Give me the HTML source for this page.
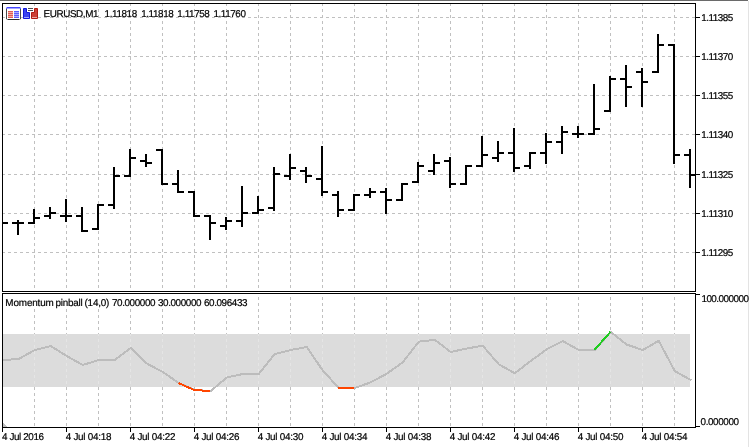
<!DOCTYPE html>
<html><head><meta charset="utf-8"><title>EURUSD,M1</title>
<style>
html,body{margin:0;padding:0;background:#fff;}
body{width:749px;height:447px;overflow:hidden;position:relative;font-family:"Liberation Sans",sans-serif;}
#c{position:absolute;left:0;top:0;width:749px;height:447px;}
.t{position:absolute;white-space:pre;color:#000;font-size:9.9px;line-height:12px;height:12px;letter-spacing:-0.4px;text-rendering:geometricPrecision;-webkit-text-stroke:0.2px #000;}
#tx{position:absolute;left:0;top:0;width:749px;height:447px;transform:translateZ(0);will-change:transform;}
</style></head><body>
<svg id="c" width="749" height="447" viewBox="0 0 749 447" shape-rendering="crispEdges">
<defs><clipPath id="band"><rect x="3" y="334" width="687" height="53"/></clipPath><clipPath id="main"><rect x="3" y="4" width="692" height="287"/></clipPath></defs>
<rect x="0" y="0" width="749" height="447" fill="#fff"/>
<rect x="0" y="0" width="748" height="1" fill="#6a6a6a"/>
<rect x="748" y="1" width="1" height="446" fill="#e3e3e3"/>
<g stroke="#c0c0c0" stroke-width="1" stroke-dasharray="3 3" fill="none">
<line x1="34.5" y1="3" x2="34.5" y2="427"/>
<line x1="66.5" y1="3" x2="66.5" y2="427"/>
<line x1="98.5" y1="3" x2="98.5" y2="427"/>
<line x1="130.5" y1="3" x2="130.5" y2="427"/>
<line x1="162.5" y1="3" x2="162.5" y2="427"/>
<line x1="194.5" y1="3" x2="194.5" y2="427"/>
<line x1="226.5" y1="3" x2="226.5" y2="427"/>
<line x1="258.5" y1="3" x2="258.5" y2="427"/>
<line x1="290.5" y1="3" x2="290.5" y2="427"/>
<line x1="322.5" y1="3" x2="322.5" y2="427"/>
<line x1="354.5" y1="3" x2="354.5" y2="427"/>
<line x1="386.5" y1="3" x2="386.5" y2="427"/>
<line x1="418.5" y1="3" x2="418.5" y2="427"/>
<line x1="450.5" y1="3" x2="450.5" y2="427"/>
<line x1="482.5" y1="3" x2="482.5" y2="427"/>
<line x1="514.5" y1="3" x2="514.5" y2="427"/>
<line x1="546.5" y1="3" x2="546.5" y2="427"/>
<line x1="578.5" y1="3" x2="578.5" y2="427"/>
<line x1="610.5" y1="3" x2="610.5" y2="427"/>
<line x1="642.5" y1="3" x2="642.5" y2="427"/>
<line x1="674.5" y1="3" x2="674.5" y2="427"/>
<line x1="2" y1="17.5" x2="695" y2="17.5"/>
<line x1="2" y1="56.5" x2="695" y2="56.5"/>
<line x1="2" y1="95.5" x2="695" y2="95.5"/>
<line x1="2" y1="134.5" x2="695" y2="134.5"/>
<line x1="2" y1="174.5" x2="695" y2="174.5"/>
<line x1="2" y1="213.5" x2="695" y2="213.5"/>
<line x1="2" y1="252.5" x2="695" y2="252.5"/>
</g>
<rect x="0" y="292" width="748" height="1" fill="#fff"/>
<rect x="3" y="294" width="247" height="15" fill="#fff"/>
<rect x="3" y="334" width="687" height="53" fill="#dcdcdc"/>
<g stroke="#e5e5e5" stroke-width="1" stroke-dasharray="3 3" fill="none" clip-path="url(#band)">
<line x1="34.5" y1="333" x2="34.5" y2="393"/>
<line x1="66.5" y1="333" x2="66.5" y2="393"/>
<line x1="98.5" y1="333" x2="98.5" y2="393"/>
<line x1="130.5" y1="333" x2="130.5" y2="393"/>
<line x1="162.5" y1="333" x2="162.5" y2="393"/>
<line x1="194.5" y1="333" x2="194.5" y2="393"/>
<line x1="226.5" y1="333" x2="226.5" y2="393"/>
<line x1="258.5" y1="333" x2="258.5" y2="393"/>
<line x1="290.5" y1="333" x2="290.5" y2="393"/>
<line x1="322.5" y1="333" x2="322.5" y2="393"/>
<line x1="354.5" y1="333" x2="354.5" y2="393"/>
<line x1="386.5" y1="333" x2="386.5" y2="393"/>
<line x1="418.5" y1="333" x2="418.5" y2="393"/>
<line x1="450.5" y1="333" x2="450.5" y2="393"/>
<line x1="482.5" y1="333" x2="482.5" y2="393"/>
<line x1="514.5" y1="333" x2="514.5" y2="393"/>
<line x1="546.5" y1="333" x2="546.5" y2="393"/>
<line x1="578.5" y1="333" x2="578.5" y2="393"/>
<line x1="610.5" y1="333" x2="610.5" y2="393"/>
<line x1="642.5" y1="333" x2="642.5" y2="393"/>
<line x1="674.5" y1="333" x2="674.5" y2="393"/>
</g>
<g fill="none" stroke-width="2" stroke-linecap="butt" stroke-linejoin="round" shape-rendering="crispEdges">
<polyline points="2.75,360 18.75,359 34.75,350 50.75,346 66.75,356 82.75,365 98.75,360 114.75,360 130.75,348 146.75,363.5 162.75,372 178.75,383 194.75,390 210.75,391 226.75,377.5 242.75,374 258.75,374 274.75,354 290.75,350 306.75,347 322.75,370.5 338.75,388 354.75,388 370.75,382.3 386.75,373.7 402.75,362.3 418.75,341.7 434.75,339.8 450.75,352 466.75,348.5 482.75,345.7 498.75,364.3 514.75,373.2 530.75,361 546.75,349.2 562.75,341 578.75,350 594.75,350 610.75,332 626.75,344.6 642.75,350 658.75,340.8 674.75,371 690.75,380 691.35,380.4" stroke="#bcbcbc"/>
<line x1="178.3" y1="383" x2="194.3" y2="390" stroke="#ff4500"/>
<line x1="194.3" y1="390" x2="210.3" y2="391" stroke="#ff4500"/>
<line x1="338.3" y1="388" x2="354.3" y2="388" stroke="#ff4500"/>
<line x1="594.3" y1="350" x2="610.3" y2="332" stroke="#20cc20"/>
</g>
<path d="M3 423 L3 427 L7 427 Z" fill="#c0c0c0"/>
<g fill="#000" clip-path="url(#main)">
<rect x="1" y="222" width="2" height="2"/><rect x="-4" y="222" width="5" height="2"/><rect x="3" y="222" width="5" height="2"/>
<rect x="17" y="220" width="2" height="15"/><rect x="12" y="222" width="5" height="2"/><rect x="19" y="222" width="5" height="2"/>
<rect x="33" y="209" width="2" height="15"/><rect x="28" y="222" width="5" height="2"/><rect x="35" y="217" width="5" height="2"/>
<rect x="49" y="207" width="2" height="12"/><rect x="44" y="215" width="5" height="2"/><rect x="51" y="212" width="5" height="2"/>
<rect x="65" y="199" width="2" height="23"/><rect x="60" y="215" width="5" height="2"/><rect x="67" y="215" width="5" height="2"/>
<rect x="81" y="207" width="2" height="25"/><rect x="76" y="215" width="5" height="2"/><rect x="83" y="230" width="5" height="2"/>
<rect x="97" y="204" width="2" height="26"/><rect x="92" y="228" width="5" height="2"/><rect x="99" y="204" width="5" height="2"/>
<rect x="113" y="167" width="2" height="42"/><rect x="108" y="204" width="5" height="2"/><rect x="115" y="175" width="5" height="2"/>
<rect x="129" y="149" width="2" height="28"/><rect x="124" y="175" width="5" height="2"/><rect x="131" y="157" width="5" height="2"/>
<rect x="145" y="154" width="2" height="13"/><rect x="140" y="160" width="5" height="2"/><rect x="147" y="162" width="5" height="2"/>
<rect x="161" y="149" width="2" height="36"/><rect x="156" y="149" width="5" height="2"/><rect x="163" y="183" width="5" height="2"/>
<rect x="177" y="170" width="2" height="23"/><rect x="172" y="183" width="5" height="2"/><rect x="179" y="191" width="5" height="2"/>
<rect x="193" y="191" width="2" height="26"/><rect x="188" y="191" width="5" height="2"/><rect x="195" y="215" width="5" height="2"/>
<rect x="209" y="215" width="2" height="25"/><rect x="204" y="215" width="5" height="2"/><rect x="211" y="222" width="5" height="2"/>
<rect x="225" y="217" width="2" height="13"/><rect x="220" y="225" width="5" height="2"/><rect x="227" y="220" width="5" height="2"/>
<rect x="241" y="186" width="2" height="41"/><rect x="236" y="220" width="5" height="2"/><rect x="243" y="212" width="5" height="2"/>
<rect x="257" y="196" width="2" height="18"/><rect x="252" y="212" width="5" height="2"/><rect x="259" y="209" width="5" height="2"/>
<rect x="273" y="167" width="2" height="44"/><rect x="268" y="207" width="5" height="2"/><rect x="275" y="173" width="5" height="2"/>
<rect x="289" y="154" width="2" height="26"/><rect x="284" y="175" width="5" height="2"/><rect x="291" y="167" width="5" height="2"/>
<rect x="305" y="167" width="2" height="16"/><rect x="300" y="170" width="5" height="2"/><rect x="307" y="175" width="5" height="2"/>
<rect x="321" y="146" width="2" height="50"/><rect x="316" y="178" width="5" height="2"/><rect x="323" y="191" width="5" height="2"/>
<rect x="337" y="191" width="2" height="26"/><rect x="332" y="194" width="5" height="2"/><rect x="339" y="209" width="5" height="2"/>
<rect x="353" y="194" width="2" height="17"/><rect x="348" y="209" width="5" height="2"/><rect x="355" y="194" width="5" height="2"/>
<rect x="369" y="188" width="2" height="10"/><rect x="364" y="194" width="5" height="2"/><rect x="371" y="191" width="5" height="2"/>
<rect x="385" y="188" width="2" height="26"/><rect x="380" y="191" width="5" height="2"/><rect x="387" y="199" width="5" height="2"/>
<rect x="401" y="183" width="2" height="18"/><rect x="396" y="199" width="5" height="2"/><rect x="403" y="183" width="5" height="2"/>
<rect x="417" y="162" width="2" height="21"/><rect x="412" y="181" width="5" height="2"/><rect x="419" y="165" width="5" height="2"/>
<rect x="433" y="154" width="2" height="21"/><rect x="428" y="170" width="5" height="2"/><rect x="435" y="162" width="5" height="2"/>
<rect x="449" y="157" width="2" height="31"/><rect x="444" y="160" width="5" height="2"/><rect x="451" y="183" width="5" height="2"/>
<rect x="465" y="165" width="2" height="20"/><rect x="460" y="183" width="5" height="2"/><rect x="467" y="165" width="5" height="2"/>
<rect x="481" y="136" width="2" height="31"/><rect x="476" y="165" width="5" height="2"/><rect x="483" y="154" width="5" height="2"/>
<rect x="497" y="141" width="2" height="21"/><rect x="492" y="157" width="5" height="2"/><rect x="499" y="152" width="5" height="2"/>
<rect x="513" y="128" width="2" height="44"/><rect x="508" y="152" width="5" height="2"/><rect x="515" y="167" width="5" height="2"/>
<rect x="529" y="152" width="2" height="17"/><rect x="524" y="165" width="5" height="2"/><rect x="531" y="152" width="5" height="2"/>
<rect x="545" y="133" width="2" height="31"/><rect x="540" y="152" width="5" height="2"/><rect x="547" y="141" width="5" height="2"/>
<rect x="561" y="126" width="2" height="28"/><rect x="556" y="141" width="5" height="2"/><rect x="563" y="131" width="5" height="2"/>
<rect x="577" y="126" width="2" height="12"/><rect x="572" y="133" width="5" height="2"/><rect x="579" y="133" width="5" height="2"/>
<rect x="593" y="84" width="2" height="51"/><rect x="588" y="133" width="5" height="2"/><rect x="595" y="128" width="5" height="2"/>
<rect x="609" y="76" width="2" height="36"/><rect x="604" y="110" width="5" height="2"/><rect x="611" y="78" width="5" height="2"/>
<rect x="625" y="65" width="2" height="42"/><rect x="620" y="78" width="5" height="2"/><rect x="627" y="86" width="5" height="2"/>
<rect x="641" y="68" width="2" height="39"/><rect x="636" y="71" width="5" height="2"/><rect x="643" y="81" width="5" height="2"/>
<rect x="657" y="34" width="2" height="39"/><rect x="652" y="71" width="5" height="2"/><rect x="659" y="44" width="5" height="2"/>
<rect x="673" y="44" width="2" height="120"/><rect x="668" y="44" width="5" height="2"/><rect x="675" y="154" width="5" height="2"/>
<rect x="689" y="149" width="2" height="39"/><rect x="684" y="154" width="5" height="2"/><rect x="691" y="174" width="5" height="2"/>
</g>
<g fill="#000">
<rect x="2" y="3" width="694" height="1"/><rect x="2" y="291" width="694" height="1"/><rect x="2" y="293" width="694" height="1"/><rect x="2" y="427" width="694" height="1"/><rect x="2" y="3" width="1" height="289"/><rect x="2" y="293" width="1" height="135"/><rect x="695" y="3" width="1" height="289"/><rect x="695" y="293" width="1" height="135"/>
<rect x="696" y="17" width="4" height="1"/><rect x="696" y="56" width="4" height="1"/><rect x="696" y="95" width="4" height="1"/><rect x="696" y="134" width="4" height="1"/><rect x="696" y="174" width="4" height="1"/><rect x="696" y="213" width="4" height="1"/><rect x="696" y="252" width="4" height="1"/><rect x="696" y="294" width="4" height="1"/><rect x="696" y="426" width="4" height="1"/>
<rect x="2" y="428" width="1" height="4"/><rect x="66" y="428" width="1" height="4"/><rect x="130" y="428" width="1" height="4"/><rect x="194" y="428" width="1" height="4"/><rect x="258" y="428" width="1" height="4"/><rect x="322" y="428" width="1" height="4"/><rect x="386" y="428" width="1" height="4"/><rect x="450" y="428" width="1" height="4"/><rect x="514" y="428" width="1" height="4"/><rect x="578" y="428" width="1" height="4"/><rect x="642" y="428" width="1" height="4"/>
</g>
<g>
<rect x="6" y="7" width="15" height="13" fill="#fff"/>
<rect x="7" y="7" width="13" height="1" fill="#4646ff"/>
<rect x="6" y="7" width="1" height="1" fill="#b4b4ff"/><rect x="20" y="7" width="1" height="1" fill="#b4b4ff"/>
<rect x="6" y="8" width="15" height="1" fill="#5c5cff"/><rect x="7" y="8" width="13" height="1" fill="#a4a4ff"/>
<rect x="6" y="9" width="1" height="10" fill="#4a4a4a"/>
<rect x="20" y="9" width="1" height="10" fill="#4a4a4a"/>
<rect x="8" y="19" width="11" height="1" fill="#2a2a2a"/>
<rect x="7" y="19" width="1" height="1" fill="#8a8a8a"/><rect x="19" y="19" width="1" height="1" fill="#8a8a8a"/>
<rect x="6" y="19" width="1" height="1" fill="#d8d8d8"/><rect x="20" y="19" width="1" height="1" fill="#d8d8d8"/>
<rect x="8" y="11" width="5" height="7" fill="#f0aaa4"/>
<rect x="14" y="11" width="5" height="7" fill="#acacff"/>
<g fill="#e25c52"><rect x="8" y="11" width="5" height="1"/><rect x="8" y="13" width="5" height="1"/><rect x="8" y="15" width="5" height="1"/><rect x="8" y="17" width="5" height="1"/></g>
<g fill="#5c5cff"><rect x="14" y="11" width="5" height="1"/><rect x="14" y="13" width="5" height="1"/><rect x="14" y="15" width="5" height="1"/><rect x="14" y="17" width="5" height="1"/></g>
<path d="M23.5 8.5 h3 v4 h3 v6 h-6 z" fill="#3a44f0" stroke="#1018dc" stroke-width="1" stroke-linejoin="round" shape-rendering="geometricPrecision"/>
<rect x="24" y="17" width="5" height="1" fill="#a0a6ff"/>
<path d="M37.5 8.5 h-3 v4 h-3 v6 h6 z" fill="#cc4036" stroke="#b01c12" stroke-width="1" stroke-linejoin="round" shape-rendering="geometricPrecision"/>
<rect x="32" y="17" width="5" height="1" fill="#eaa8a2"/>
<rect x="28" y="8" width="5" height="1" fill="#505050"/>
<rect x="28" y="10" width="5" height="1" fill="#505050"/>
</g>
</svg>
<div id="tx">
<div class="t" style="left:43.5px;top:9px;">EURUSD,M1</div>
<div class="t" style="left:104.6px;top:9px;">1.11818</div>
<div class="t" style="left:141.2px;top:9px;">1.11818</div>
<div class="t" style="left:177.3px;top:9px;">1.11758</div>
<div class="t" style="left:213.4px;top:9px;">1.11760</div>
<div class="t" style="left:701.3px;top:13px;letter-spacing:-0.5px;">1.11385</div>
<div class="t" style="left:701.3px;top:52px;letter-spacing:-0.5px;">1.11370</div>
<div class="t" style="left:701.3px;top:91px;letter-spacing:-0.5px;">1.11355</div>
<div class="t" style="left:701.3px;top:130px;letter-spacing:-0.5px;">1.11340</div>
<div class="t" style="left:701.3px;top:170px;letter-spacing:-0.5px;">1.11325</div>
<div class="t" style="left:701.3px;top:209px;letter-spacing:-0.5px;">1.11310</div>
<div class="t" style="left:701.3px;top:248px;letter-spacing:-0.5px;">1.11295</div>
<div class="t" style="left:701.4px;top:294px;letter-spacing:-0.5px;">100.000000</div>
<div class="t" style="left:700.6px;top:417px;">0.000000</div>
<div class="t" style="left:5.3px;top:298px;letter-spacing:-0.12px;">Momentum</div>
<div class="t" style="left:55.4px;top:298px;letter-spacing:-0.2px;">pinball</div>
<div class="t" style="left:84.5px;top:298px;letter-spacing:-0.2px;">(14,0)</div>
<div class="t" style="left:112px;top:298px;">70.000000</div>
<div class="t" style="left:158px;top:298px;">30.000000</div>
<div class="t" style="left:204px;top:298px;">60.096433</div>
<div class="t" style="left:2px;top:432px;">4 Jul 2016</div>
<div class="t" style="left:65.7px;top:432px;letter-spacing:-0.25px;">4 Jul 04:18</div>
<div class="t" style="left:129.7px;top:432px;letter-spacing:-0.25px;">4 Jul 04:22</div>
<div class="t" style="left:193.7px;top:432px;letter-spacing:-0.25px;">4 Jul 04:26</div>
<div class="t" style="left:257.7px;top:432px;letter-spacing:-0.25px;">4 Jul 04:30</div>
<div class="t" style="left:321.7px;top:432px;letter-spacing:-0.25px;">4 Jul 04:34</div>
<div class="t" style="left:385.7px;top:432px;letter-spacing:-0.25px;">4 Jul 04:38</div>
<div class="t" style="left:449.7px;top:432px;letter-spacing:-0.25px;">4 Jul 04:42</div>
<div class="t" style="left:513.7px;top:432px;letter-spacing:-0.25px;">4 Jul 04:46</div>
<div class="t" style="left:577.7px;top:432px;letter-spacing:-0.25px;">4 Jul 04:50</div>
<div class="t" style="left:641.7px;top:432px;letter-spacing:-0.25px;">4 Jul 04:54</div>
</div>
</body></html>
